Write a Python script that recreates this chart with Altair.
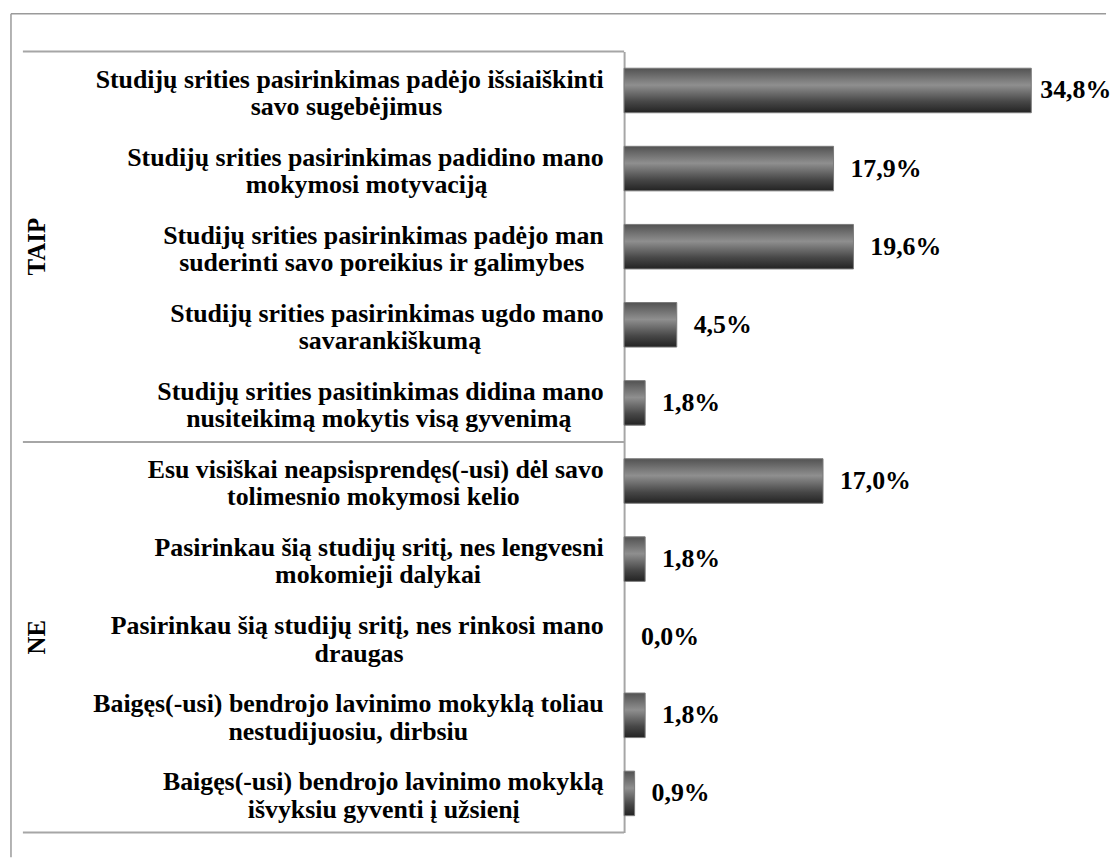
import unicodedata
import altair as alt
import pandas as pd

# ---- data ----
groups = ["TAIP", "TAIP", "TAIP", "TAIP", "TAIP", "NE", "NE", "NE", "NE", "NE"]
line1 = [
    "Studijų srities pasirinkimas padėjo išsiaiškinti",
    "Studijų srities pasirinkimas padidino mano",
    "Studijų srities pasirinkimas padėjo man",
    "Studijų srities pasirinkimas ugdo mano",
    "Studijų srities pasitinkimas didina mano",
    "Esu visiškai neapsisprendęs(-usi) dėl savo",
    "Pasirinkau šią studijų sritį, nes lengvesni",
    "Pasirinkau šią studijų sritį, nes rinkosi mano",
    "Baigęs(-usi) bendrojo lavinimo mokyklą toliau",
    "Baigęs(-usi) bendrojo lavinimo mokyklą",
]
line2 = [
    "savo sugebėjimus",
    "mokymosi motyvaciją",
    "suderinti savo poreikius ir galimybes",
    "savarankiškumą",
    "nusiteikimą mokytis visą gyvenimą",
    "tolimesnio mokymosi kelio",
    "mokomieji dalykai",
    "draugas",
    "nestudijuosiu, dirbsiu",
    "išvyksiu gyventi į užsienį",
]
values = [34.8, 17.9, 19.6, 4.5, 1.8, 17.0, 1.8, 0.0, 1.8, 0.9]
group_names = ["TAIP", "NE"]

# ---- helper: approximate Times-Bold text widths, to centre the two lines of a label ----
_W = {
    "a": 500, "b": 556, "c": 444, "d": 556, "e": 444, "f": 333, "g": 500, "h": 556,
    "i": 278, "j": 333, "k": 556, "l": 278, "m": 833, "n": 556, "o": 500, "p": 556,
    "q": 556, "r": 444, "s": 389, "t": 333, "u": 556, "v": 500, "w": 722, "x": 500,
    "y": 500, "z": 444, " ": 250, "(": 333, ")": 333, "-": 333, ",": 250, ".": 250,
    "S": 556, "E": 667, "P": 611, "B": 667, "T": 667, "A": 722, "I": 389, "N": 722,
}


def text_w(s):
    tot = 0
    for ch in s:
        base = unicodedata.normalize("NFD", ch)[0]
        tot += _W.get(base, 500)
    return tot


NBSP = "\u00a0"
ZWSP = "\u200b"  # keeps the padding from being trimmed


def make_label(a, b):
    wa, wb = text_w(a), text_w(b)
    n = int(round(abs(wa - wb) / 2 / 250))
    if n:
        if wa >= wb:
            b = b + NBSP * n + ZWSP
        else:
            a = a + NBSP * n + ZWSP
    return a + "|" + b


cats = [make_label(a, b) for a, b in zip(line1, line2)]
df = pd.DataFrame({
    "cat": cats,
    "pct": values,
    "group": groups,
    "txt": [f"{v:.1f}%".replace(".", ",") for v in values],
})

# group label placed on the middle row of its group
grp_rows = []
for g in group_names:
    rows = [c for c, gg in zip(cats, groups) if gg == g]
    grp_rows.append({"group": g, "cat": rows[len(rows) // 2]})
grp_df = pd.DataFrame(grp_rows)
mid_df = pd.DataFrame({"cat": [cats[groups.index("NE")]]})
one = pd.DataFrame({"k": [0]})

FONT = "Liberation Serif"
W, H = 471, 786
LINE = "#a6a6a6"

yscale = alt.Scale(paddingInner=0, paddingOuter=0)
xscale = alt.Scale(domain=[0, 40])
yaxis = alt.Axis(
    title=None, ticks=False, grid=False,
    domainColor=LINE, domainWidth=2,
    labelExpr="split(datum.label, '|')",
    labelAlign="right", labelBaseline="middle", labelPadding=21,
    labelOffset=-11,
    labelFont=FONT, labelFontWeight="bold", labelFontSize=26,
    labelLineHeight=27.5, labelLimit=800, labelColor="black",
)


def Y(**kw):
    return alt.Y("cat:N", sort=cats, scale=yscale, axis=yaxis, **kw)


grad = alt.Gradient(
    gradient="linear",
    stops=[
        alt.GradientStop(color="#525252", offset=0),
        alt.GradientStop(color="#8f8f8f", offset=0.38),
        alt.GradientStop(color="#474747", offset=0.75),
        alt.GradientStop(color="#232323", offset=1),
    ],
    x1=0, x2=0, y1=0, y2=1,
)

bars = alt.Chart(df).transform_filter("datum.pct > 0").mark_bar(
    height={"band": 0.57}, color=grad, stroke="#7a7a7a", strokeWidth=1
).encode(
    x=alt.X("pct:Q", scale=xscale, axis=None),
    y=Y(),
)

vals = alt.Chart(df).mark_text(
    align="left", baseline="middle", font=FONT, fontWeight="bold", fontSize=26,
    color="black", dx=alt.ExprRef(expr="datum.pct > 30 ? 9 : 17"),
).encode(
    x=alt.X("pct:Q", scale=xscale, axis=None),
    y=Y(),
    text="txt:N",
)

grp_text = alt.Chart(grp_df).mark_text(
    angle=270, align="center", baseline="middle", font=FONT, fontWeight="bold",
    fontSize=25, color="black",
).encode(
    x=alt.value(-591),
    y=Y(),
    text="group:N",
)

sep_mid = alt.Chart(mid_df).mark_rule(color=LINE, strokeWidth=2).encode(
    x=alt.value(-605), x2=alt.value(0),
    y=Y(bandPosition=0),
)
sep_top = alt.Chart(one).mark_rule(color=LINE, strokeWidth=2).encode(
    x=alt.value(-605), x2=alt.value(0), y=alt.value(0)
)
sep_bot = alt.Chart(one).mark_rule(color=LINE, strokeWidth=2).encode(
    x=alt.value(-605), x2=alt.value(0), y=alt.value(H)
)
border_top = alt.Chart(one).mark_rule(color="#9a9a9a", strokeWidth=1.5).encode(
    x=alt.value(-617), x2=alt.value(485), y=alt.value(-38)
)
border_left = alt.Chart(one).mark_rule(color="#9a9a9a", strokeWidth=1.5).encode(
    x=alt.value(-617), y=alt.value(-38), y2=alt.value(811)
)

chart = alt.layer(
    border_top, border_left, sep_top, sep_mid, sep_bot, bars, vals, grp_text
).properties(
    width=W, height=H,
    padding={"left": 2, "top": 2, "right": 0, "bottom": 0},
).configure(background="white").configure_view(stroke=None)

chart.save("out.html", embed_options={"renderer": "svg", "actions": False})
